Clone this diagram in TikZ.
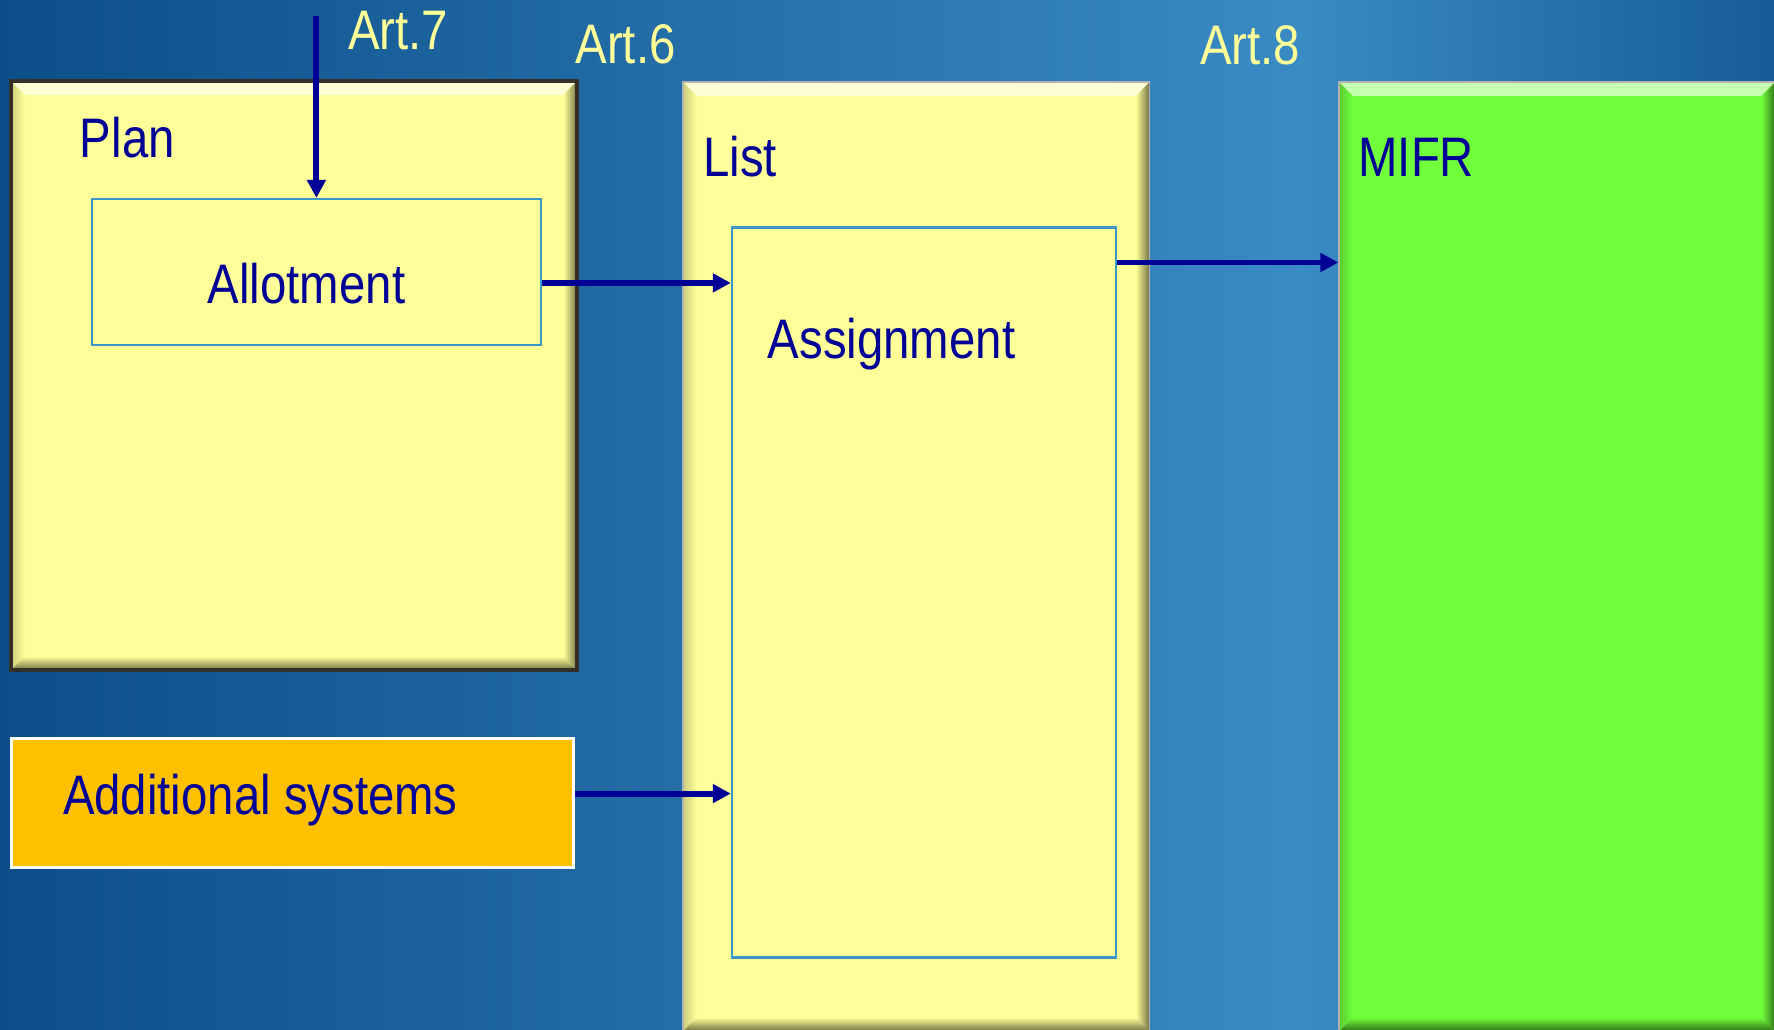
\documentclass[tikz,border=0pt]{standalone}
\usepackage{fontspec}
\setmainfont{Liberation Sans}[FakeStretch=0.85]
\usepackage{tikz}
\usetikzlibrary{arrows.meta}
\definecolor{padyellow}{RGB}{255,255,153}
\definecolor{mifrgreen}{RGB}{112,255,58}
\definecolor{addorange}{RGB}{255,192,0}
\definecolor{txtblue}{RGB}{0,0,150}
\definecolor{innerline}{RGB}{60,150,200}
\definecolor{bgdark}{RGB}{12,78,138}
\definecolor{bglight}{RGB}{58,138,195}
\definecolor{bgright}{RGB}{22,92,152}
\tikzset{
  bevel/.style={path picture={
    \shade[top color=#1!40!white,bottom color=#1] (path picture bounding box.north west) -- (path picture bounding box.north east) -- ([shift={(-.12cm,-.12cm)}]path picture bounding box.north east) -- ([shift={(.12cm,-.12cm)}]path picture bounding box.north west) -- cycle;
    \shade[left color=#1,right color=#1!45!black] (path picture bounding box.north east) -- (path picture bounding box.south east) -- ([shift={(-.12cm,.12cm)}]path picture bounding box.south east) -- ([shift={(-.12cm,-.12cm)}]path picture bounding box.north east) -- cycle;
    \shade[top color=#1,bottom color=#1!45!black] (path picture bounding box.south west) -- (path picture bounding box.south east) -- ([shift={(-.12cm,.12cm)}]path picture bounding box.south east) -- ([shift={(.12cm,.12cm)}]path picture bounding box.south west) -- cycle;
    \shade[left color=#1!80!black,right color=#1] (path picture bounding box.north west) -- (path picture bounding box.south west) -- ([shift={(.12cm,.12cm)}]path picture bounding box.south west) -- ([shift={(.12cm,-.12cm)}]path picture bounding box.north west) -- cycle;
  }},
  arr/.style={draw=txtblue,line width=1.5pt,-{Triangle[length=0.16cm,width=0.16cm]}},
}
\newcommand{\boxnode}{\node[anchor=north west,inner sep=0,rectangle]}
\newcommand{\txtnode}{\node[anchor=base west,inner sep=0,text=txtblue,font=\fontsize{14}{17}\selectfont]}
\newcommand{\artnode}{\node[anchor=base west,inner sep=0,text=padyellow,font=\fontsize{14}{17}\selectfont]}

\begin{document}
\begin{tikzpicture}[x=0.01cm,y=-0.01cm]
  \shade[left color=bgdark,right color=bglight] (0,0) rectangle (1150,910);
  \shade[left color=bglight,right color=bgright] (1150,0) rectangle (1568,910);
  \useasboundingbox (0,0) rectangle (1568,910);
  % outer boxes
  \boxnode[fill=padyellow,draw=black!85!olive,line width=1pt,bevel=padyellow,minimum width=5cm,minimum height=5.2cm] (plan) at (8,70) {}; %
  \boxnode[fill=padyellow,draw=gray!60,line width=0.4pt,bevel=padyellow,minimum width=4.12cm,minimum height=8.38cm] (list) at (603,72) {}; %
  \boxnode[fill=mifrgreen,draw=gray!60,line width=0.4pt,bevel=mifrgreen,minimum width=3.85cm,minimum height=8.38cm] (mifr) at (1183,72) {}; %
  \boxnode[fill=addorange,draw=white,line width=0.8pt,minimum width=4.96cm,minimum height=1.14cm] (addsys) at (9,651) {}; %
  % inner boxes
  \boxnode[fill=padyellow,draw=innerline,line width=0.6pt,minimum width=3.97cm,minimum height=1.29cm] (allot) at (80,175) {}; %
  \boxnode[fill=padyellow,draw=innerline,line width=0.6pt,minimum width=3.39cm,minimum height=6.45cm] (assign) at (646,200) {}; %
  % labels
  \txtnode (plantxt) at (70,139) {Plan};
  \txtnode (allottxt) at (183,268) {Allotment};
  \txtnode (listtxt) at (621,156) {List};
  \txtnode (assigntxt) at (678,317) {Assignment};
  \txtnode (mifrtxt) at (1200,156) {MIFR};
  \txtnode (addtxt) at (55,720) {Additional systems};
  \artnode (art7) at (307,44) {Art.7};
  \artnode (art6) at (508,56) {Art.6};
  \artnode (art8) at (1060,57) {Art.8};
  % connectors
  \path (allot.north) ++(0,-161) coordinate (art7top);
  \draw[arr] (art7top) -- (allot.north);
  \draw[arr] ([yshift=-0.095cm]allot.east) coordinate (a2l) -- (a2l -| assign.west);
  \draw[arr] ([yshift=-0.32cm]assign.north east) coordinate (a2m) -- (a2m -| mifr.west);
  \draw[arr] ([yshift=0.08cm]addsys.east) coordinate (s2a) -- (s2a -| assign.west);
\end{tikzpicture}
\end{document}
